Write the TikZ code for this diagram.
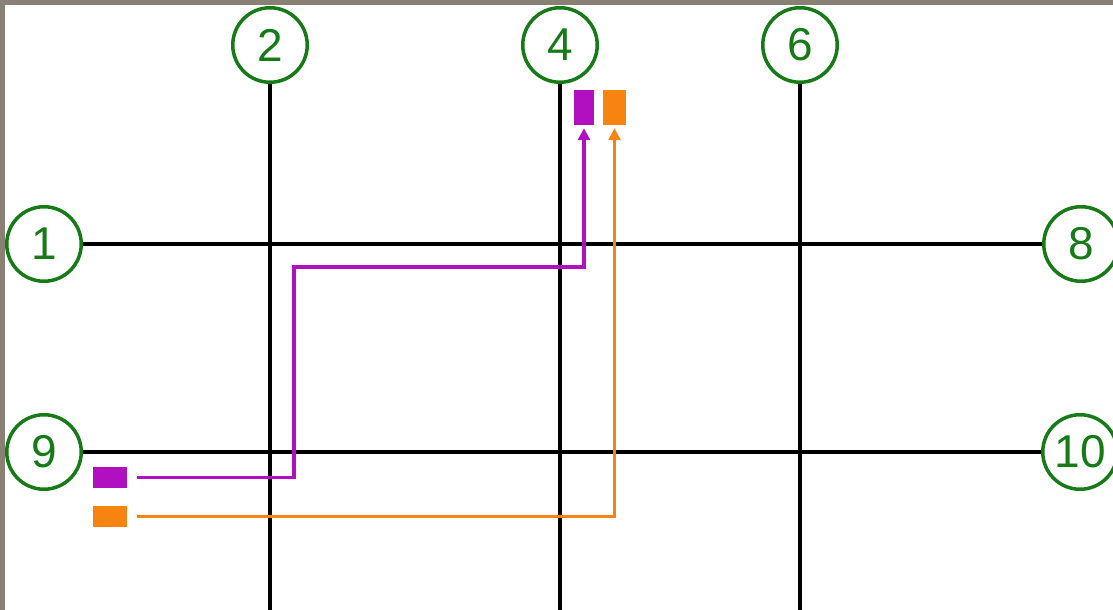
\documentclass[tikz,border=0pt]{standalone}
\usepackage{fontspec}
\setmainfont{Liberation Sans}
\usetikzlibrary{arrows.meta}
\definecolor{grn}{RGB}{22,122,22}
\definecolor{prp}{RGB}{176,16,192}
\definecolor{org}{RGB}{247,132,16}
\definecolor{framegray}{RGB}{138,129,118}
\begin{document}
\begin{tikzpicture}[x=1pt,y=-1pt,
  gridlabel/.style={circle,draw=grn,line width=3.5pt,minimum size=74.5pt,inner sep=0pt,text=grn,font=\fontsize{46}{46}\selectfont},
  gridline/.style={line width=3.5pt,black},
  marker/.style={rectangle,inner sep=0pt,draw=none},
  route/.style={line width=3.5pt,-{Triangle[length=12pt,width=12pt]},shorten <=10pt,shorten >=3pt}]
\useasboundingbox (0,0) rectangle (1113,610);
\fill[framegray] (0,0) rectangle (1113,610);
\fill[white] (5,5) rectangle (1113,610);
\begin{scope}
\clip (5,5) rectangle (1113,610);
% grid bubbles
\node[gridlabel] (g1) at (44,244) {1};
\node[gridlabel] (g2) at (270,45) {2};
\node[gridlabel] (g4) at (560,45) {4};
\node[gridlabel] (g6) at (800,45) {6};
\node[gridlabel] (g8) at (1081,244) {8};
\node[gridlabel] (g9) at (44,452) {9};
\node[gridlabel] (g10) at (1080,452) {10};
\coordinate (b2) at (270,612);
\coordinate (b4) at (560,612);
\coordinate (b6) at (800,612);
% grid lines
\draw[gridline] (g1) -- (g8);
\draw[gridline] (g9) -- (g10);
\draw[gridline] (g2) -- (b2);
\draw[gridline] (g4) -- (b4);
\draw[gridline] (g6) -- (b6);
% markers
\node[marker,fill=prp,minimum width=20pt,minimum height=35pt] (pt) at (584,107.5) {};
\node[marker,fill=org,minimum width=23pt,minimum height=35pt] (ot) at (614.5,107.5) {};
\node[marker,fill=prp,minimum width=34pt,minimum height=21pt] (ps) at (110,477.5) {};
\node[marker,fill=org,minimum width=34pt,minimum height=21pt] (os) at (110,516.5) {};
% routes
\draw[route,prp] (ps.east) -- (294,477.5) |- (584,267) -- (pt.south);
\draw[route,org] (os.east) -| (ot.south);
\end{scope}
\end{tikzpicture}
\end{document}
